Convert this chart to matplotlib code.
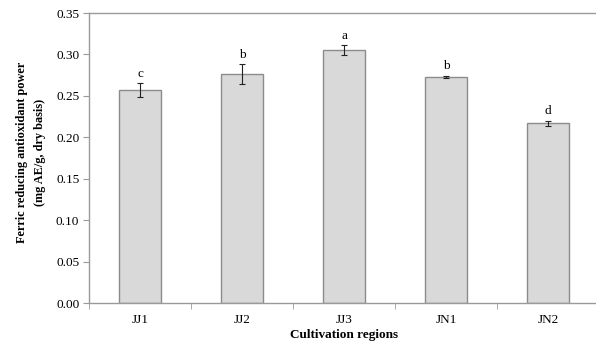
import matplotlib
matplotlib.use("Agg")
import matplotlib.pyplot as plt

categories = ["JJ1", "JJ2", "JJ3", "JN1", "JN2"]
values = [0.257, 0.276, 0.305, 0.273, 0.217]
errors = [0.008, 0.012, 0.006, 0.0015, 0.003]
letters = ["c", "b", "a", "b", "d"]
yticks = [0.00, 0.05, 0.10, 0.15, 0.20, 0.25, 0.30, 0.35]

plt.rcParams['font.family'] = ['Liberation Serif', 'DejaVu Serif']

fig = plt.figure(figsize=(5.96, 3.43), dpi=100)
W, H = 596, 343
ax = fig.add_axes([89 / W, 1 - 303 / H, (599 - 89) / W, (303 - 13) / H])

x = list(range(len(categories)))
ax.bar(x, values, width=0.41, color="#d9d9d9", edgecolor="#8c8c8c", linewidth=1.0, zorder=2)
ax.errorbar(x, values, yerr=errors, fmt="none", ecolor="#222222", elinewidth=0.8,
            capsize=2.5, capthick=0.8, zorder=3)
for xi, v, e, l in zip(x, values, errors, letters):
    ax.annotate(l, (xi, v + e), xytext=(0, 2.5), textcoords="offset points",
                ha="center", va="bottom", fontsize=9.5)

ax.set_xlim(-0.5, 4.5)
ax.set_ylim(0, 0.35)
ax.set_yticks(yticks)
ax.set_yticklabels([f"{t:.2f}" for t in yticks], fontsize=9.5)
ax.set_xticks(x)
ax.set_xticklabels(categories, fontsize=9.5)
ax.tick_params(axis="x", length=0, pad=8)
ax.set_xticks([i - 0.5 for i in range(len(categories) + 1)], minor=True)
ax.tick_params(axis="x", which="minor", length=4, color="#9a9a9a", direction="out")
ax.tick_params(axis="y", length=4, color="#9a9a9a", direction="out", pad=3)

for s in ["left", "bottom", "top"]:
    ax.spines[s].set_color("#9a9a9a")
    ax.spines[s].set_linewidth(1.0)
ax.spines["right"].set_visible(False)

ax.set_xlabel("Cultivation regions", fontsize=9.5, fontweight="bold", labelpad=2)
fig.text(31 / W, 1 - 152.5 / H, "Ferric reducing antioxidant power\n(mg AE/g, dry basis)",
         rotation=90, ha="center", va="center", fontsize=8.8, fontweight="bold",
         linespacing=1.65, multialignment="center")

fig.savefig("out.png", dpi=100)
